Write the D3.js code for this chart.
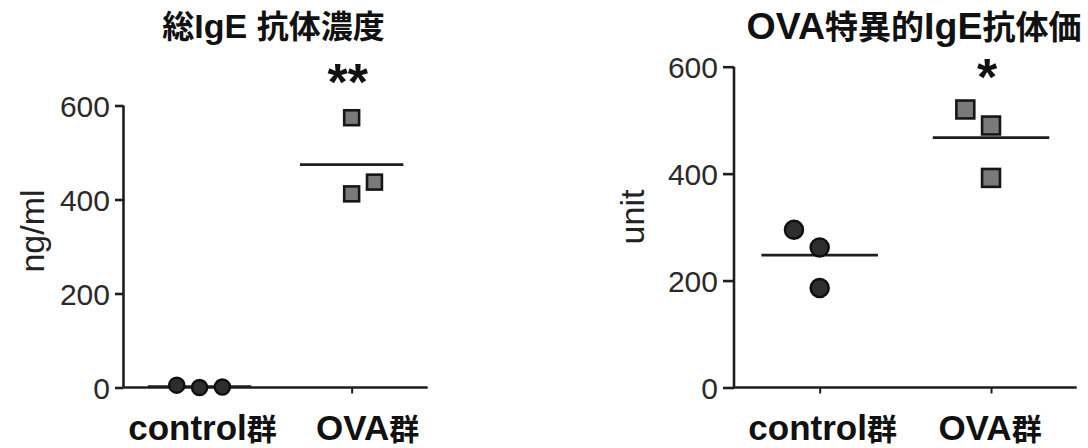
<!DOCTYPE html>
<html>
<head>
<meta charset="utf-8">
<script src="https://cdn.jsdelivr.net/npm/d3@7/dist/d3.min.js"></script>
<style>
  html, body { margin: 0; padding: 0; background: #fff; }
  svg { display: block; }
</style>
</head>
<body>
<svg id="chart" width="1088" height="448"></svg>
<script>
// ---------- DATA ----------
const categories = ["control群", "OVA群"];
const yTicks = [0, 200, 400, 600];

// Chart 1: 総IgE 抗体濃度 (ng/ml)
const totalIgE_control = [5, 0, 1];
const totalIgE_ova = [574, 412, 437];
const totalIgE_controlSlots = [-1, 0, 1];
const totalIgE_ovaSlots = [0, 0, 1];

// Chart 2: OVA特異的IgE抗体価 (unit)
const ovaIgE_control = [295, 262, 186];
const ovaIgE_ova = [520, 490, 392];
const ovaIgE_controlSlots = [-1, 0, 0];
const ovaIgE_ovaSlots = [-1, 0, 0];

const titles = ["総IgE 抗体濃度", "OVA特異的IgE抗体価"];
const yLabels = ["ng/ml", "unit"];
const significance = ["**", "*"];

// ---------- LAYOUT / STYLE ----------
const charts = [
  {
    title: titles[0], yLabel: yLabels[0], sig: significance[0],
    groups: [
      { values: totalIgE_control, slots: totalIgE_controlSlots, shape: "circle" },
      { values: totalIgE_ova, slots: totalIgE_ovaSlots, shape: "square" }
    ],
    x0: 123.5, x1: 427.7, yTop: 105.5, yBottom: 387.5,
    titleX: 273.5, titleY: 37.5, titleLatin: 34, titleCJK: 32,
    yLabelX: 32, yLabelY: 231, tickLen: 8.5,
    sym: 17.5, sigY: 100, labelDx: [3, 16]
  },
  {
    title: titles[1], yLabel: yLabels[1], sig: significance[1],
    groups: [
      { values: ovaIgE_control, slots: ovaIgE_controlSlots, shape: "circle" },
      { values: ovaIgE_ova, slots: ovaIgE_ovaSlots, shape: "square" }
    ],
    x0: 734, x1: 1076.7, yTop: 66.7, yBottom: 387.5,
    titleX: 914, titleY: 38.5, titleLatin: 37.5, titleCJK: 33,
    yLabelX: 632, yLabelY: 217, tickLen: 11,
    sym: 20.5, sigY: 95, labelDx: [3, -1]
  }
];

const svg = d3.select("#chart");
const LATIN = "'Liberation Sans', Arial, Helvetica, sans-serif";
const CJK = "'Noto Sans CJK JP', 'Noto Sans CJK SC', sans-serif";
const isCJK = ch => /[\u3000-\u9fff\uff00-\uffef]/.test(ch);

function mixedText(textSel, str, latinSize, cjkSize) {
  const runs = [];
  for (const ch of str) {
    const c = isCJK(ch);
    if (runs.length && runs[runs.length - 1].c === c) runs[runs.length - 1].t += ch;
    else runs.push({ c, t: ch });
  }
  textSel.selectAll("tspan").data(runs).join("tspan")
    .attr("font-family", d => d.c ? CJK : LATIN)
    .attr("font-size", d => d.c ? cjkSize : latinSize)
    .text(d => d.t);
}

charts.forEach(cfg => {
  const g = svg.append("g");
  const x = d3.scalePoint().domain(categories).range([cfg.x0, cfg.x1]).padding(0.5);
  const y = d3.scaleLinear().domain([0, 600]).range([cfg.yBottom, cfg.yTop]);
  const step = x.step();

  // Y axis
  const yAxis = d3.axisLeft(y).tickValues(yTicks).tickSize(cfg.tickLen).tickPadding(5);
  const ya = g.append("g").attr("transform", `translate(${cfg.x0},0)`).call(yAxis);
  ya.select(".domain").attr("stroke", "#1e1e1e").attr("stroke-width", 2.6)
    .attr("d", `M0,${cfg.yTop}V${cfg.yBottom}`);
  ya.selectAll(".tick line").attr("stroke", "#1e1e1e").attr("stroke-width", 2.6);
  ya.selectAll(".tick text").attr("font-family", LATIN).attr("font-size", 30)
    .attr("fill", "#2a2a2a").attr("dy", "0.35em");

  // X axis
  const xAxis = d3.axisBottom(x).tickSize(6).tickFormat("");
  const xa = g.append("g").attr("transform", `translate(0,${cfg.yBottom})`).call(xAxis);
  xa.select(".domain").attr("stroke", "#1e1e1e").attr("stroke-width", 2.6)
    .attr("d", `M${cfg.x0},0H${cfg.x1}`);
  xa.selectAll(".tick line").attr("stroke", "#1e1e1e").attr("stroke-width", 2);

  // X category labels
  categories.forEach((c, i) => {
    const t = g.append("text")
      .attr("x", x(c) + cfg.labelDx[i]).attr("y", 440)
      .attr("text-anchor", "middle").attr("font-weight", "bold").attr("fill", "#111");
    mixedText(t, c, 35, 30);
  });

  // Title
  const tt = g.append("text").attr("x", cfg.titleX).attr("y", cfg.titleY)
    .attr("text-anchor", "middle").attr("font-weight", "bold").attr("fill", "#111");
  mixedText(tt, cfg.title, cfg.titleLatin, cfg.titleCJK);

  // Y label
  g.append("text")
    .attr("transform", `translate(${cfg.yLabelX},${cfg.yLabelY}) rotate(-90)`)
    .attr("text-anchor", "middle").attr("dominant-baseline", "central")
    .attr("font-family", LATIN).attr("font-size", 34).attr("fill", "#222")
    .text(cfg.yLabel);

  // Mean lines
  const halfW = step * 0.34;
  cfg.groups.forEach((grp, i) => {
    const m = d3.mean(grp.values);
    g.append("line")
      .attr("x1", x(categories[i]) - halfW).attr("x2", x(categories[i]) + halfW)
      .attr("y1", y(m)).attr("y2", y(m))
      .attr("stroke", "#1e1e1e").attr("stroke-width", 2.8);
  });

  // Points
  const off = step * 0.15;
  cfg.groups.forEach((grp, i) => {
    const pts = grp.values.map((v, j) => ({ v, s: grp.slots[j] }));
    const cx = d => x(categories[i]) + d.s * off;
    if (grp.shape === "circle") {
      g.selectAll(null).data(pts).join("circle")
        .attr("cx", cx).attr("cy", d => y(d.v))
        .attr("r", cfg.sym / 2 - 1.2)
        .attr("fill", "#2e2e2e").attr("stroke", "#0e0e0e").attr("stroke-width", 2.4);
    } else {
      const s = cfg.sym - 2.6;
      g.selectAll(null).data(pts).join("rect")
        .attr("x", d => cx(d) - s / 2).attr("y", d => y(d.v) - s / 2)
        .attr("width", s).attr("height", s)
        .attr("fill", "#7a7a7a").attr("stroke", "#161616").attr("stroke-width", 2.6);
    }
  });

  // Significance marker
  g.append("text")
    .attr("x", x(categories[1]) - 4).attr("y", cfg.sigY)
    .attr("text-anchor", "middle").attr("font-family", LATIN)
    .attr("font-weight", "bold").attr("font-size", 52).attr("fill", "#111")
    .text(cfg.sig);
});
</script>
</body>
</html>
